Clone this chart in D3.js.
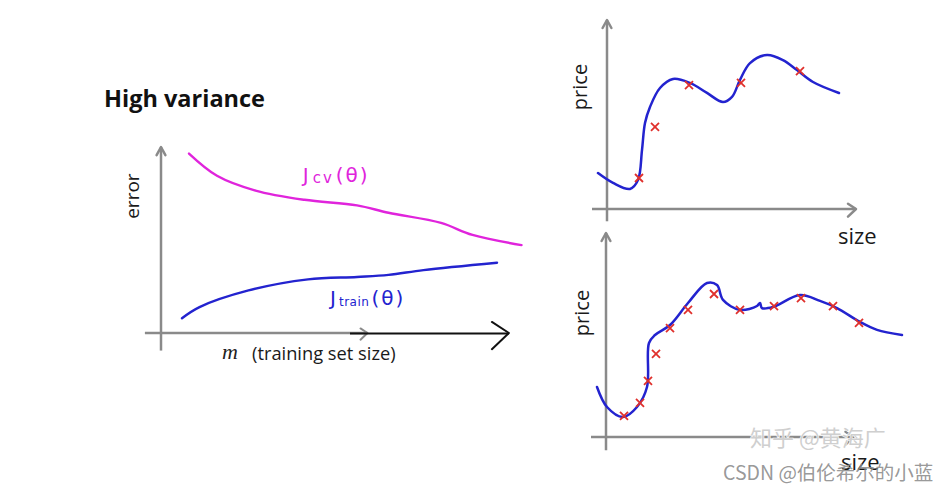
<!DOCTYPE html>
<html>
<head>
<meta charset="utf-8">
<script src="https://cdn.jsdelivr.net/npm/d3@7"></script>
<style>
  body { margin: 0; background: #fff; }
</style>
</head>
<body>
<script>
var w = 951,
    h = 490;

// learning curves: m (training set size) and error, both on a 0-100 scale
var cvM = [8, 16, 27, 41, 56, 65, 80, 89, 103];
var cvErr = [97, 85, 77, 72, 69, 65, 59.5, 53, 47.5];
var trainM = [6, 11, 25, 42, 56, 65, 75, 96];
var trainErr = [8, 14, 23, 29, 30.3, 31.4, 34, 38];

// top right: fitted curve and data points (size, price)
var fitTopSize = [-3.6, 2.4, 9.2, 12.4, 14, 15.2, 17.2, 21.2, 26.4, 33.2, 40, 46.4, 50, 53.2, 57.2, 64, 70.4, 76, 82.4, 92.8];
var fitTopPrice = [19, 13.8, 10.6, 15.3, 31.2, 45.5, 54, 64, 68.8, 66.7, 61.4, 56.6, 59.3, 68.3, 77.2, 81.5, 78.8, 73.5, 67.2, 61.4];
var ptsTopSize = [12.8, 19.2, 32.8, 53.6, 77.2];
var ptsTopPrice = [16.4, 43.4, 65.6, 66.7, 73];

// bottom right: more data, same kind of wiggly fit
var fitBotSize = [-3.6, 0.4, 6.8, 12.4, 16.4, 17.2, 19.6, 25.6, 32.8, 40.4, 44.4, 46.8, 53.6, 60.4, 61.6, 62.4, 66.8, 77.6, 85.6, 92.4, 101.6, 108.4, 118.4];
var fitBotPrice = [24.5, 14.7, 9.8, 14.7, 24.5, 46.1, 50, 54.9, 65.7, 75.5, 74.5, 67.2, 62.3, 64.2, 65.7, 63.2, 63.7, 69.6, 66.7, 63.2, 56.4, 52.5, 50];
var ptsBotSize = [7.2, 13.6, 16.8, 20, 25.6, 32.8, 43.2, 53.6, 67.2, 78, 90.8, 101.2];
var ptsBotPrice = [10.3, 16.7, 27.5, 40.7, 53.4, 62.3, 70.1, 62.3, 64.2, 68.1, 64.2, 55.9];

var gray = "#8a8a8a",
    blue = "#2323cf",
    magenta = "#e024dc",
    red = "#e0302c",
    sans = "'Open Sans', sans-serif",
    cjk = "'Noto Sans CJK SC', sans-serif";

var svg = d3.select("body").append("svg")
    .attr("width", w)
    .attr("height", h);

function zip(a, b) {
  return a.map(function(v, i) { return [v, b[i]]; });
}

function chevron(g, x, y, size, dir, color, width) {
  // open arrow head pointing up ("up") or right ("right")
  var p = dir == "up"
    ? [[x - size * 0.55, y + size], [x, y], [x + size * 0.55, y + size]]
    : [[x - size, y - size * 0.65], [x, y], [x - size, y + size * 0.95]];
  g.append("path")
      .attr("d", d3.line()(p))
      .attr("fill", "none")
      .attr("stroke", color)
      .attr("stroke-width", width)
      .attr("stroke-linecap", "round")
      .attr("stroke-linejoin", "round");
}

function curve(g, x, y, pts, color, width) {
  g.append("path")
      .datum(pts)
      .attr("d", d3.line()
          .x(function(d) { return x(d[0]); })
          .y(function(d) { return y(d[1]); })
          .curve(d3.curveCatmullRom.alpha(0.5)))
      .attr("fill", "none")
      .attr("stroke", color)
      .attr("stroke-width", width)
      .attr("stroke-linecap", "round");
}

function crosses(g, x, y, pts) {
  var r = 4;
  g.selectAll("path.cross")
      .data(pts)
      .enter()
      .append("path")
      .attr("class", "cross")
      .attr("d", function(d) {
        var cx = x(d[0]), cy = y(d[1]);
        return "M" + (cx - r) + "," + (cy - r) + "L" + (cx + r) + "," + (cy + r) +
               "M" + (cx - r) + "," + (cy + r) + "L" + (cx + r) + "," + (cy - r);
      })
      .attr("stroke", red)
      .attr("stroke-width", 1.8)
      .attr("fill", "none");
}

function label(g, x, y, size, str) {
  return g.append("text")
      .attr("x", x).attr("y", y)
      .style("font-family", sans)
      .attr("font-size", size)
      .attr("fill", "#1a1a1a")
      .text(str);
}

// ---------- left: learning curves ----------
var lx = d3.scaleLinear().domain([0, 100]).range([161, 511]),
    ly = d3.scaleLinear().domain([0, 100]).range([333, 148]);
var left = svg.append("g");

label(left, 104, 107, 23.5, "High variance")
    .attr("font-weight", "bold")
    .attr("fill", "#111");

left.append("line")
    .attr("x1", lx(0)).attr("y1", ly(-9.5))
    .attr("x2", lx(0)).attr("y2", ly(100.5))
    .attr("stroke", gray).attr("stroke-width", 2.5);
chevron(left, lx(0), ly(100.5), 8, "up", gray, 2.5);

left.append("line")
    .attr("x1", lx(-4.6)).attr("y1", ly(0))
    .attr("x2", lx(59)).attr("y2", ly(0))
    .attr("stroke", gray).attr("stroke-width", 2.5);
chevron(left, lx(59), ly(0), 7, "right", gray, 2);
left.append("line")
    .attr("x1", lx(54)).attr("y1", ly(0) + 0.5)
    .attr("x2", lx(99.4)).attr("y2", ly(0) + 0.5)
    .attr("stroke", "#111").attr("stroke-width", 2);
chevron(left, lx(99.4), ly(0), 17, "right", "#111", 2);

label(left, 0, 0, 19, "error")
    .attr("transform", "translate(139," + ly(74) + ") rotate(-90)")
    .attr("text-anchor", "middle");

left.append("text")
    .attr("x", 222).attr("y", 359)
    .style("font-family", "'Liberation Serif', serif")
    .attr("font-style", "italic")
    .attr("font-size", 22)
    .attr("fill", "#222")
    .text("m");
label(left, 252, 360, 18.3, "(training set size)");

curve(left, lx, ly, zip(cvM, cvErr), magenta, 2.4);
curve(left, lx, ly, zip(trainM, trainErr), blue, 2.4);

// hand-written style curve names
var cvLabel = left.append("text")
    .attr("x", lx(40.5)).attr("y", ly(81.5))
    .style("font-family", "'DejaVu Sans', sans-serif")
    .attr("font-size", 20)
    .attr("letter-spacing", 2)
    .attr("fill", magenta);
cvLabel.append("tspan").text("J");
cvLabel.append("tspan").attr("font-size", 15).attr("dx", 2).attr("dy", 1).text("cv");
cvLabel.append("tspan").attr("dy", -1).attr("dx", 2).text("(θ)");

var trLabel = left.append("text")
    .attr("x", lx(48.3)).attr("y", ly(15))
    .style("font-family", "'DejaVu Sans', sans-serif")
    .attr("font-size", 20)
    .attr("letter-spacing", 2)
    .attr("fill", blue);
trLabel.append("tspan").text("J");
trLabel.append("tspan").attr("font-size", 12).attr("letter-spacing", 0.5).attr("dx", 1).attr("dy", 1).text("train");
trLabel.append("tspan").attr("dy", -1).attr("dx", 2).text("(θ)");

// ---------- right panels: price vs size ----------
function fitPanel(xr, yr, fit, pts, priceY, sizeXY, xEnd) {
  var x = d3.scaleLinear().domain([0, 100]).range(xr),
      y = d3.scaleLinear().domain([0, 100]).range(yr);
  var g = svg.append("g");

  g.append("line")
      .attr("x1", x(0)).attr("y1", y(-6.5))
      .attr("x2", x(0)).attr("y2", y(100))
      .attr("stroke", gray).attr("stroke-width", 2.5);
  chevron(g, x(0), y(100), 8, "up", gray, 2.5);

  g.append("line")
      .attr("x1", x(-6)).attr("y1", y(0))
      .attr("x2", x(xEnd)).attr("y2", y(0))
      .attr("stroke", gray).attr("stroke-width", 2.5);
  chevron(g, x(xEnd), y(0), 8, "right", gray, 2.5);

  label(g, 0, 0, 20, "price")
      .attr("transform", "translate(" + priceY[0] + "," + priceY[1] + ") rotate(-90)")
      .attr("text-anchor", "middle");
  label(g, sizeXY[0], sizeXY[1], 22, "size");

  curve(g, x, y, fit, blue, 2.5);
  crosses(g, x, y, pts);
}

fitPanel([607, 857], [209, 20],
    zip(fitTopSize, fitTopPrice), zip(ptsTopSize, ptsTopPrice),
    [587, 87], [838, 244], 99.6);

fitPanel([606, 856], [437, 233],
    zip(fitBotSize, fitBotPrice), zip(ptsBotSize, ptsBotPrice),
    [589, 313], [841, 470], 99);

// ---------- watermarks ----------
svg.append("text")
    .attr("x", 750).attr("y", 446)
    .style("font-family", cjk)
    .attr("font-size", 22)
    .attr("fill", "#cfcfcf")
    .attr("stroke", "#fff").attr("stroke-width", 1)
    .attr("paint-order", "stroke")
    .text("知乎 @黄海广");

svg.append("text")
    .attr("x", 723).attr("y", 480)
    .style("font-family", cjk)
    .attr("font-size", 19.5)
    .attr("fill", "#8c8c8c")
    .attr("fill-opacity", 0.9)
    .text("CSDN @伯伦希尔的小蓝");
</script>
</body>
</html>
